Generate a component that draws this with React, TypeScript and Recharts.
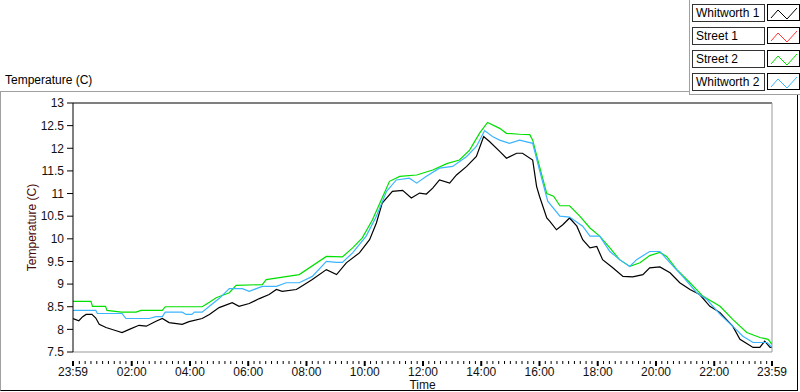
import React from "react";
import { LineChart, Line, XAxis, YAxis, ReferenceLine } from "recharts";

const FONT = "'Liberation Sans', Arial, sans-serif";

// minutes since 23:59 of the previous day, temperature in C
const whitworth1Time = [0, 12, 20, 27, 39, 47, 54, 68, 89, 101, 116, 136, 151, 171, 184, 198, 225, 239, 266, 281, 301, 328, 342, 363, 384, 404, 419, 431, 460, 466, 493, 522, 543, 563, 590, 611, 625, 637, 658, 679, 697, 714, 728, 741, 755, 776, 790, 811, 831, 846, 858, 879, 893, 914, 926, 947, 955, 961, 976, 982, 996, 1009, 1023, 1038, 1050, 1065, 1079, 1091, 1112, 1133, 1153, 1174, 1188, 1209, 1230, 1250, 1271, 1291, 1312, 1333, 1359, 1374, 1401, 1415, 1425, 1436, 1440];
const whitworth1Temp = [8.24, 8.19, 8.28, 8.33, 8.33, 8.25, 8.11, 8.04, 7.97, 7.93, 8.0, 8.09, 8.07, 8.18, 8.24, 8.15, 8.11, 8.17, 8.24, 8.33, 8.48, 8.59, 8.51, 8.57, 8.68, 8.77, 8.88, 8.84, 8.88, 8.92, 9.1, 9.32, 9.21, 9.47, 9.69, 9.98, 10.35, 10.79, 11.05, 11.07, 10.9, 11.01, 10.99, 11.12, 11.3, 11.23, 11.41, 11.6, 11.82, 12.26, 12.15, 11.93, 11.78, 11.89, 11.89, 11.74, 11.16, 10.94, 10.46, 10.39, 10.2, 10.31, 10.46, 10.28, 9.98, 9.8, 9.83, 9.54, 9.36, 9.17, 9.16, 9.21, 9.36, 9.38, 9.25, 9.03, 8.88, 8.77, 8.51, 8.37, 8.07, 7.78, 7.6, 7.6, 7.74, 7.6, 7.6];

const street1Time: number[] = [];
const street1Temp: number[] = [];

const street2Time = [0, 37, 40, 67, 70, 100, 130, 140, 184, 190, 266, 281, 295, 322, 336, 390, 398, 466, 522, 555, 576, 596, 617, 635, 652, 673, 708, 741, 770, 796, 817, 838, 854, 879, 893, 920, 941, 947, 961, 976, 990, 1003, 1023, 1044, 1065, 1085, 1106, 1126, 1147, 1168, 1188, 1209, 1223, 1244, 1271, 1298, 1333, 1359, 1388, 1415, 1432, 1440];
const street2Temp = [8.62, 8.62, 8.51, 8.51, 8.42, 8.38, 8.38, 8.42, 8.42, 8.5, 8.5, 8.6, 8.7, 8.81, 8.97, 8.99, 9.1, 9.21, 9.61, 9.6, 9.8, 10.02, 10.42, 10.86, 11.27, 11.38, 11.41, 11.52, 11.66, 11.74, 11.96, 12.34, 12.57, 12.44, 12.33, 12.31, 12.3, 12.18, 11.6, 11.0, 10.94, 10.73, 10.73, 10.5, 10.24, 10.06, 9.8, 9.54, 9.39, 9.47, 9.63, 9.7, 9.61, 9.32, 9.03, 8.73, 8.51, 8.22, 7.93, 7.82, 7.78, 7.67];

const whitworth2Time = [0, 47, 50, 101, 109, 157, 171, 184, 190, 225, 233, 245, 250, 266, 281, 301, 322, 349, 363, 390, 419, 439, 466, 493, 522, 543, 555, 576, 604, 625, 646, 666, 693, 708, 728, 755, 782, 811, 831, 848, 864, 879, 899, 920, 947, 961, 978, 1003, 1023, 1050, 1065, 1085, 1106, 1126, 1147, 1161, 1188, 1209, 1230, 1256, 1285, 1306, 1333, 1359, 1380, 1401, 1430, 1440];
const whitworth2Temp = [8.42, 8.42, 8.35, 8.35, 8.24, 8.24, 8.28, 8.28, 8.38, 8.38, 8.33, 8.33, 8.38, 8.38, 8.51, 8.68, 8.9, 8.9, 8.84, 8.95, 8.95, 9.03, 9.03, 9.17, 9.5, 9.48, 9.48, 9.69, 10.06, 10.5, 11.05, 11.3, 11.34, 11.23, 11.38, 11.56, 11.6, 11.82, 12.04, 12.39, 12.26, 12.18, 12.11, 12.18, 12.11, 11.52, 10.83, 10.5, 10.48, 10.28, 10.06, 10.06, 9.72, 9.54, 9.39, 9.54, 9.72, 9.72, 9.47, 9.17, 8.81, 8.66, 8.33, 8.07, 7.85, 7.71, 7.71, 7.6];

const yTicks = [7.5, 8, 8.5, 9, 9.5, 10, 10.5, 11, 11.5, 12, 12.5, 13];
const xMajorTicks = [0, 121, 241, 361, 481, 601, 721, 841, 961, 1081, 1201, 1321, 1440];
const xMajorLabels = ["23:59", "02:00", "04:00", "06:00", "08:00", "10:00", "12:00", "14:00", "16:00", "18:00", "20:00", "22:00", "23:59"];

const toPoints = (t: number[], v: number[]) => t.map((m, i) => ({ t: m, v: v[i] }));

const series = [
  { name: "Whitworth 1", color: "#000000", data: toPoints(whitworth1Time, whitworth1Temp) },
  { name: "Street 1", color: "#ff3333", data: toPoints(street1Time, street1Temp) },
  { name: "Street 2", color: "#00e000", data: toPoints(street2Time, street2Temp) },
  { name: "Whitworth 2", color: "#3cb4ff", data: toPoints(whitworth2Time, whitworth2Temp) },
];

// minor ticks every 12 minutes, aligned on 02:00
const xMinorTicks: number[] = [];
for (let m = 1; m < 1440; m += 12) if (!xMajorTicks.includes(m)) xMinorTicks.push(m);
const xAllTicks = [...xMajorTicks, ...xMinorTicks].sort((a, b) => a - b);

function XTick(props: any) {
  const { x, y, payload } = props;
  const idx = xMajorTicks.indexOf(payload.value);
  const major = idx >= 0;
  return (
    <g>
      <line x1={x} x2={x} y1={y + 1} y2={y + (major ? 6 : 4)} stroke="#000" strokeWidth={major ? 2 : 1} />
      {major && (
        <text x={x} y={y + 16} textAnchor="middle" fontSize={12} fontFamily={FONT} fill="#111">
          {xMajorLabels[idx]}
        </text>
      )}
    </g>
  );
}

function Zig({ color }: { color: string }) {
  return (
    <svg width={31} height={15} style={{ display: "block" }}>
      <polyline points="3,13 10,5 19,14 29,3" fill="none" stroke={color} strokeWidth={1} />
    </svg>
  );
}

export default function App() {
  return (
    <div style={{ position: "absolute", left: 0, top: 0, width: 800, height: 392, background: "#fff", fontFamily: FONT }}>
      {/* outer frame */}
      <div
        style={{
          position: "absolute",
          left: 0,
          top: 91,
          width: 796,
          height: 298,
          borderTop: "1px solid #a0a0a0",
          borderLeft: "1px solid #a0a0a0",
          borderRight: "1px solid #000",
          borderBottom: "1px solid #000",
        }}
      />
      <div style={{ position: "absolute", left: 5, top: 73, fontSize: 12, color: "#000" }}>Temperature (C)</div>

      <div style={{ position: "absolute", left: 0, top: 0 }}>
        <LineChart width={800} height={392} margin={{ top: 103, right: 28, bottom: 0, left: 13 }}>
          <XAxis
            type="number"
            dataKey="t"
            domain={[0, 1440]}
            ticks={xAllTicks}
            interval={0}
            tick={<XTick />}
            tickLine={false}
            axisLine={{ stroke: "#999" }}
            height={40}
            allowDataOverflow
            label={{ value: "Time", position: "insideBottom", offset: 3, fill: "#111", fontSize: 12, fontFamily: FONT }}
          />
          <YAxis
            type="number"
            domain={[7.5, 13]}
            ticks={yTicks}
            interval={0}
            width={60}
            tickSize={6}
            tickMargin={3}
            tickLine={{ stroke: "#000" }}
            axisLine={{ stroke: "#000" }}
            tick={{ fill: "#111", fontSize: 12, fontFamily: FONT }}
            allowDataOverflow
            label={{
              value: "Temperature (C)",
              angle: -90,
              position: "insideLeft",
              offset: 19,
              fill: "#4a0a0a",
              fontSize: 12,
              fontFamily: FONT,
              style: { textAnchor: "middle" },
            }}
          />
          <ReferenceLine y={13} stroke="#000" />
          <ReferenceLine x={1440} stroke="#999" />
          {series.map((s) => (
            <Line
              key={s.name}
              data={s.data}
              dataKey="v"
              name={s.name}
              type="linear"
              stroke={s.color}
              strokeWidth={1.2}
              dot={false}
              activeDot={false}
              isAnimationActive={false}
            />
          ))}
        </LineChart>
      </div>

      {/* legend panel */}
      <div
        style={{
          position: "absolute",
          left: 689,
          top: 0,
          width: 111,
          height: 94,
          background: "#fff",
          borderLeft: "1px solid #a0a0a0",
          borderBottom: "1px solid #a0a0a0",
        }}
      >
        {series.map((s, i) => (
          <div key={s.name} style={{ position: "absolute", left: 2, top: 4 + i * 23 }}>
            <div
              style={{
                position: "absolute",
                left: 0,
                top: 0,
                width: 68,
                height: 16,
                border: "1px solid #333",
                fontSize: 12,
                lineHeight: "16px",
                paddingLeft: 3,
                boxSizing: "content-box",
                whiteSpace: "nowrap",
                color: "#000",
              }}
            >
              {s.name}
            </div>
            <div style={{ position: "absolute", left: 75, top: 0, width: 31, height: 15, border: "1px solid #000" }}>
              <Zig color={s.color} />
            </div>
          </div>
        ))}
      </div>
    </div>
  );
}
